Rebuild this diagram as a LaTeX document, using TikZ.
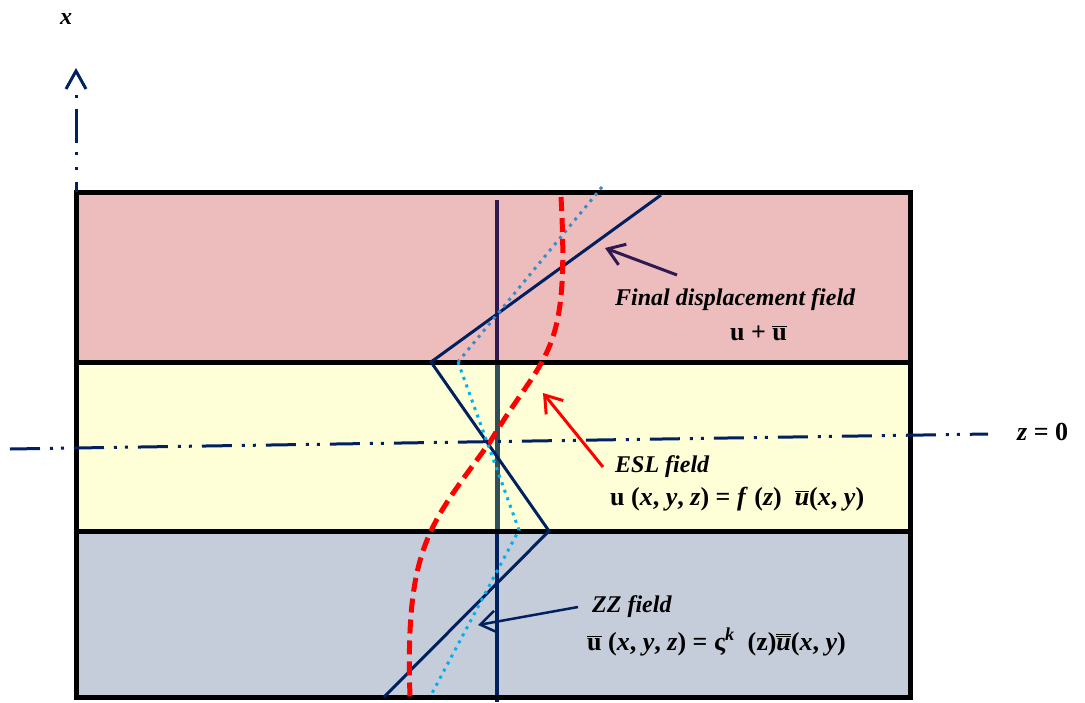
\documentclass[tikz,border=0pt]{standalone}
\usepackage{fontspec}
\setmainfont{Liberation Serif}
\usetikzlibrary{arrows.meta}
\definecolor{pinkL}{HTML}{EDBDBD}
\definecolor{yelL}{HTML}{FFFFD7}
\definecolor{grayL}{HTML}{C6CDDA}
\definecolor{navy}{HTML}{002060}
\definecolor{darkpurp}{HTML}{2E1A50}
\definecolor{slate}{HTML}{2F4F5A}
\definecolor{skyb}{HTML}{00B0F0}
\definecolor{steelb}{HTML}{3A8CC8}
\newcommand\bi[1]{\textbf{\textit{#1}}}
\newcommand\ubr{\ensuremath{\overline{\mbox{\textbf{u}}}}}
\newcommand\ubi{\ensuremath{\overline{\mbox{\bi{u}}}}}
\begin{document}
\begin{tikzpicture}[x=1pt,y=-1pt,
  lbl/.style={inner sep=0pt, anchor=base west, font=\fontsize{24}{28}\selectfont\bfseries},
  eq/.style={inner sep=0pt, anchor=base west, font=\fontsize{26}{30}\selectfont\bfseries},
  border/.style={line width=5pt, black},
  barb/.style={-{Straight Barb[length=16pt,width=22pt]}},
  ]
\useasboundingbox (0,0) rectangle (1085,702);
% layers
\fill[pinkL] (76,192) rectangle (910,362);
\fill[yelL] (76,362) rectangle (910,531);
\fill[grayL] (76,531) rectangle (910,697);
% vertical mid line
\coordinate (v0) at (497,200);
\coordinate (v1) at (497,362);
\coordinate (v2) at (497,531);
\coordinate (v3) at (497,702);
\draw[darkpurp, line width=4pt] (v0) -- (v1);
\draw[slate, line width=5pt] (v1) -- (v2);
\draw[navy, line width=4pt] (v2) -- (v3);
% borders
\draw[border] (76,192) rectangle (910,697);
\draw[border] (76,362) -- (910,362);
\draw[border] (76,531) -- (910,531);
% zigzag (final field)
\coordinate (z0) at (661,195);
\coordinate (z1) at (431,362);
\coordinate (z2) at (549,531);
\coordinate (z3) at (384,697);
\draw[navy, line width=3pt, line join=miter] (z0) -- (z1) -- (z2) -- (z3);
% dotted (ZZ field)
\coordinate (d0) at (602,187);
\coordinate (d1) at (458,362);
\coordinate (d2) at (519,530);
\coordinate (d3) at (430,697);
\draw[steelb, line width=3pt, dash pattern=on 3pt off 5pt] (d0) -- (d1);
\draw[skyb, line width=3pt, dash pattern=on 3pt off 5pt] (d1) -- (d2) -- (d3);
% red dashed (ESL)
\coordinate (r0) at (561,197);
\coordinate (rm) at (490,442);
\coordinate (r1) at (410,697);
\draw[red, line width=5pt, dash pattern=on 14pt off 7pt] (r0) .. controls (570,360) and (545,350) .. (rm) .. controls (430,525) and (405,545) .. (r1);
% z = 0 axis
\coordinate (h0) at (10,449);
\coordinate (h1) at (988,434);
\draw[navy, line width=3pt, dash pattern=on 30pt off 10pt on 3pt off 8pt on 3pt off 10pt] (h0) -- (h1);
% x axis
\coordinate (a0) at (76,192);
\coordinate (a1) at (76,90);
\coordinate (at) at (76,71);
\draw[navy, line width=3pt, dash pattern=on 10pt off 12pt on 3pt off 12pt on 3pt off 9pt on 34pt off 11pt on 3pt off 100pt] (a0) -- (a1);
\draw[navy, line width=3pt, line join=miter] (66,89) -- (at) -- (86,89);
% labels
\node[lbl] (xl) at (60,24) {\itshape x};
\node[eq] (zl) at (1017,440) {\bi{z} = 0};
\node[lbl] (fin) at (615,305) {\itshape Final displacement field};
\node[eq] (fin2) at (730,340) {u + \ubr};
\node[lbl] (esl) at (615,472) {\itshape ESL field};
\node[eq] (esl2) at (610,505) {u (\bi{x}, \bi{y}, \bi{z}) = \bi{f} (\bi{z})\enspace\ubi(\bi{x}, \bi{y})};
\node[lbl] (zz) at (592,612) {\itshape ZZ field};
\node[eq] (zz2) at (587,650) {\ubr{} (\bi{x}, \bi{y}, \bi{z}) = ς\textsuperscript{\bi{k}}\enspace(z)\ensuremath{\overline{\overline{\mbox{\bi{u}}}}}(\bi{x}, \bi{y})};
% arrows
\coordinate (f0) at (677,275);
\coordinate (f1) at (605,248);
\draw[darkpurp, line width=3pt, barb] (f0) -- (f1);
\coordinate (e0) at (603,467);
\coordinate (e1) at (543,393);
\draw[red, line width=3pt, barb] (e0) -- (e1);
\coordinate (q0) at (578,607);
\coordinate (q1) at (478,625);
\draw[navy, line width=2.5pt, barb] (q0) -- (q1);
\end{tikzpicture}
\end{document}
